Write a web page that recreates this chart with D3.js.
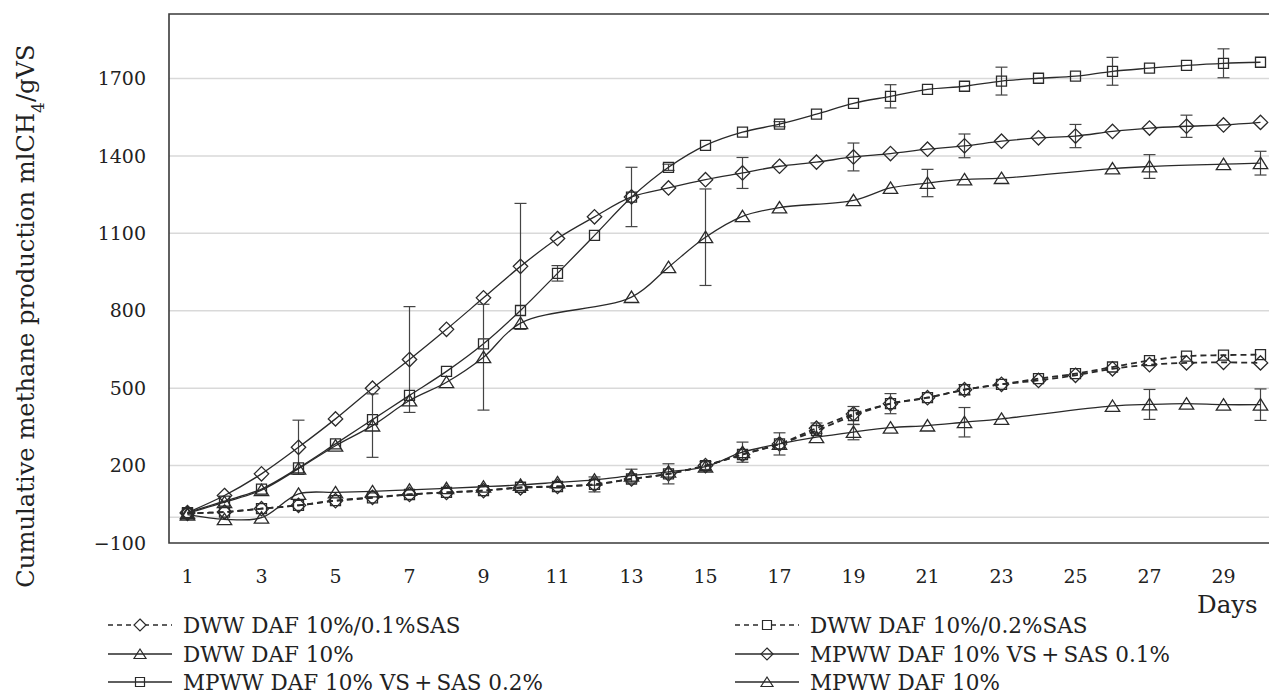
<!DOCTYPE html>
<html><head><meta charset="utf-8">
<script src="https://cdn.jsdelivr.net/npm/d3@7"></script>
<style>body{margin:0;background:#fff}svg{display:block}</style>
</head><body><svg id="c" width="1269" height="695"></svg>
<script>
// ---------- data ----------
const days = [1,2,3,4,5,6,7,8,9,10,11,12,13,14,15,16,17,18,19,20,21,22,23,24,25,26,27,28,29,30];
const xTickLabels = [1,3,5,7,9,11,13,15,17,19,21,23,25,27,29];
const yTicks = [-100,200,500,800,1100,1400,1700];

const seriesNames = [
  "DWW DAF 10%/0.1%SAS",
  "DWW DAF 10%/0.2%SAS",
  "DWW DAF 10%",
  "MPWW DAF 10% VS\u2009+\u2009SAS 0.1%",
  "MPWW DAF 10% VS\u2009+\u2009SAS 0.2%",
  "MPWW DAF 10%"
];
const dww01 = [15,20,33,46,64,77,88,96,103,114,119,127,148,168,200,243,284,345,400,440,463,494,515,530,550,575,591,598,600,598];
const dww02 = [15,20,33,46,64,75,88,96,103,116,119,127,148,168,200,243,284,336,394,440,463,494,515,537,556,582,607,624,628,630];
const dww10 = [10,-8,-2,90,96,100,106,112,118,125,135,145,161,176,196,252,284,310,330,347,355,368,381,null,null,431,437,440,436,436];
const mp01  = [18,84,168,271,381,500,611,728,850,972,1080,1164,1241,1276,1308,1334,1360,1376,1396,1409,1426,1439,1457,1470,1477,1495,1508,1515,1520,1530];
const mp02  = [18,62,109,191,284,378,472,565,672,801,945,1092,1240,1356,1441,1492,1523,1562,1604,1631,1658,1670,1690,1701,1709,1728,1740,1751,1759,1763];
const mp10  = [15,58,105,188,277,355,452,523,620,752,null,null,853,969,1085,1166,1200,null,1228,1276,1295,1309,1314,null,null,1351,1359,null,1368,1372];

// error bars: [day, ± error]
const errDww01 = [[15,15],[18,20]];
const errDww02 = [[12,29],[14,39],[17,43],[19,35],[20,39],[22,20]];
const errDww10 = [[13,25],[16,39],[19,30],[22,57],[27,58],[30,61]];
const errMp01  = [[4,105],[7,205],[10,244],[13,115],[16,60],[19,54],[22,46],[25,45],[28,43]];
const errMp02  = [[11,30],[14,12],[17,10],[20,45],[23,54],[26,54],[29,56]];
const errMp10  = [[6,123],[9,205],[15,187],[21,53],[27,46],[30,46]];

// ---------- build ----------
const seriesValues = [dww01, dww02, dww10, mp01, mp02, mp10];
const seriesErr = [errDww01, errDww02, errDww10, errMp01, errMp02, errMp10];
const seriesMarker = ["diamond","square","triangle","diamond","square","triangle"];
const seriesDashed = [true,true,false,false,false,false];

const svg = d3.select("#c");
const L = 169, T = 14, B = 543, R = 169 + 30*37;
const FONT = "'DejaVu Serif', serif";
const INK = "#222";

const x = d3.scaleBand().domain(days).range([L, R]).padding(0);
const xc = d => x(d) + x.bandwidth()/2;
const y = d3.scaleLinear().domain([-100, 1950]).range([B, T]);

// gridlines
svg.append("g").selectAll("line").data(yTicks.filter(t => t > -100))
  .join("line")
  .attr("x1", L).attr("x2", 1269)
  .attr("y1", d => y(d)).attr("y2", d => y(d))
  .attr("stroke", "#d9d9d9").attr("stroke-width", 1.5);
// zero line
svg.append("line").attr("x1", L).attr("x2", 1269)
  .attr("y1", y(0)).attr("y2", y(0))
  .attr("stroke", "#d9d9d9").attr("stroke-width", 1.5);

// axes via d3 axis (labels only)
const yAxis = svg.append("g").attr("transform", `translate(${L},0)`)
  .call(d3.axisLeft(y).tickValues(yTicks).tickSize(0).tickPadding(23)
        .tickFormat(d => d < 0 ? "\u2212" + Math.abs(d) : String(d)));
yAxis.select(".domain").remove();
yAxis.selectAll("text").attr("font-family", FONT).attr("font-size", 19).attr("fill", INK);

const xAxis = svg.append("g").attr("transform", `translate(0,${B})`)
  .call(d3.axisBottom(x).tickValues(xTickLabels).tickSize(0).tickPadding(27));
xAxis.select(".domain").remove();
xAxis.selectAll("text").attr("font-family", FONT).attr("font-size", 19).attr("fill", INK);

// frame
svg.append("path")
  .attr("d", `M${1269},${T}H${L}V${B}H${1269}`)
  .attr("fill", "none").attr("stroke", "#3a3a3a").attr("stroke-width", 1.6);

// marker paths
function markerPath(type, cx, cy, s) {
  if (type === "diamond") return `M${cx},${cy-s*0.6}L${cx+s*0.6},${cy}L${cx},${cy+s*0.6}L${cx-s*0.6},${cy}Z`;
  if (type === "square") return `M${cx-s/2},${cy-s/2}h${s}v${s}h${-s}Z`;
  return `M${cx},${cy-s*0.5}L${cx+s*0.6},${cy+s*0.45}L${cx-s*0.6},${cy+s*0.45}Z`;
}

const line = d3.line().x(d => xc(d.day)).y(d => y(d.v)).curve(d3.curveCatmullRom.alpha(0.5));
const plot = svg.append("g");

seriesValues.forEach((vals, i) => {
  const pts = days.map((d, k) => ({day: d, v: vals[k]})).filter(p => p.v !== null);
  const eg = plot.append("g").attr("stroke", "#444").attr("stroke-width", 1.2);
  seriesErr[i].forEach(([d, e]) => {
    const v = vals[d-1];
    const cx = xc(d);
    eg.append("line").attr("x1", cx).attr("x2", cx).attr("y1", y(v+e)).attr("y2", y(v-e));
    eg.append("line").attr("x1", cx-6).attr("x2", cx+6).attr("y1", y(v+e)).attr("y2", y(v+e));
    eg.append("line").attr("x1", cx-6).attr("x2", cx+6).attr("y1", y(v-e)).attr("y2", y(v-e));
  });
  plot.append("path").datum(pts).attr("d", line)
    .attr("fill", "none").attr("stroke", "#2a2a2a")
    .attr("stroke-width", seriesDashed[i] ? 1.8 : 1.3)
    .attr("stroke-dasharray", seriesDashed[i] ? "6,4" : null);
  plot.append("g").selectAll("path").data(pts).join("path")
    .attr("d", p => markerPath(seriesMarker[i], xc(p.day), y(p.v), seriesMarker[i]==="square" ? 10 : 12))
    .attr("fill", "none").attr("stroke", "#2a2a2a").attr("stroke-width", 1.3);
});

// "Days" label
svg.append("text").attr("x", 1197).attr("y", 613)
  .attr("font-family", FONT).attr("font-size", 24.5).attr("fill", INK).text("Days");

// y-axis title
const yt = svg.append("text")
  .attr("transform", "translate(34,316) rotate(-90)")
  .attr("text-anchor", "middle")
  .attr("font-family", FONT).attr("font-size", 26).attr("fill", INK);
yt.append("tspan").text("Cumulative methane production  mlCH");
yt.append("tspan").attr("baseline-shift", "sub").attr("font-size", 17).text("4");
yt.append("tspan").text("/gVS");
const w = yt.node().getComputedTextLength();
yt.attr("font-size", 26 * 543 / w);

// legend
const legCols = [108, 735];
const legRows = [625, 654, 682];
seriesNames.forEach((name, i) => {
  const col = i % 2, row = Math.floor(i / 2);
  const lx = legCols[col], ly = legRows[row];
  const g = svg.append("g");
  g.append("line").attr("x1", lx).attr("x2", lx + 64).attr("y1", ly).attr("y2", ly)
    .attr("stroke", "#2a2a2a").attr("stroke-width", seriesDashed[i] ? 1.5 : 1.3)
    .attr("stroke-dasharray", seriesDashed[i] ? "5,4" : null);
  g.append("path").attr("d", markerPath(seriesMarker[i], lx + 32, ly, seriesMarker[i]==="square" ? 9 : 10))
    .attr("fill", seriesDashed[i] ? "#fff" : "none").attr("stroke", "#2a2a2a").attr("stroke-width", 1.2);
  g.append("text").attr("x", lx + 75).attr("y", ly + 8)
    .attr("font-family", FONT).attr("font-size", 21.5).attr("fill", INK).text(name);
});
</script></body></html>
